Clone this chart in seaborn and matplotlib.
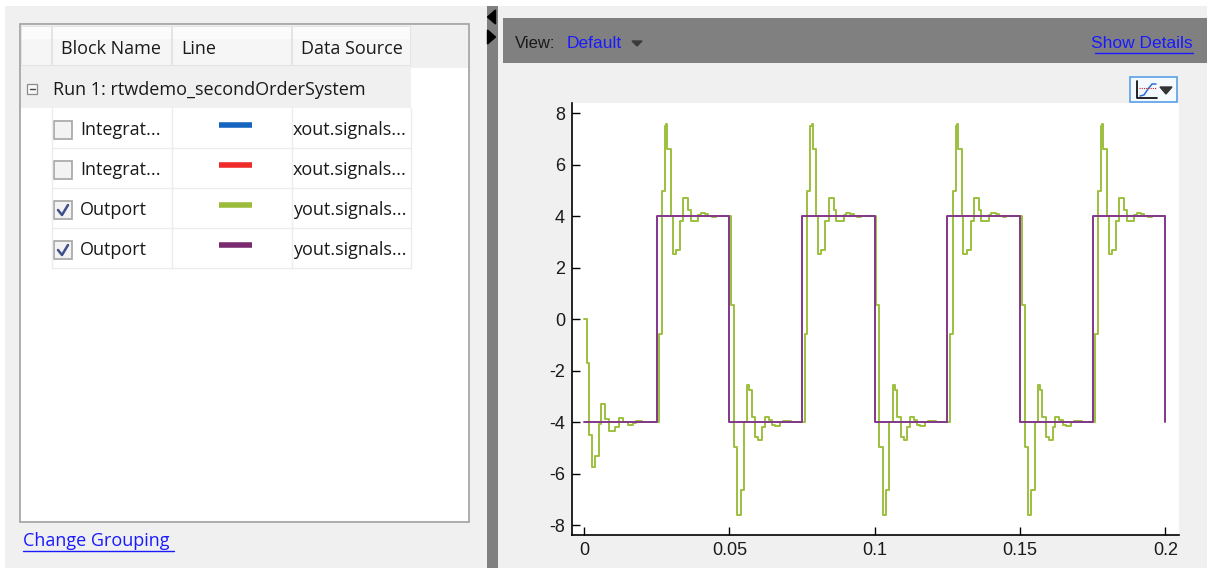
import matplotlib
matplotlib.use("Agg")
import matplotlib.pyplot as plt
from matplotlib.patches import Rectangle, Polygon
import seaborn as sns

# --- values ---
# square wave (purple Outport)
square_t = [0, 0.025, 0.05, 0.075, 0.1, 0.125, 0.15, 0.175, 0.2]
square_v = [-4, 4, -4, 4, -4, 4, -4, 4, -4]

# sampled response (green Outport), one list per half cycle
seg0_t = [0, 0.0010, 0.0017, 0.0027, 0.0039, 0.0050, 0.0057, 0.0071, 0.0085,
          0.0108, 0.0120, 0.0135, 0.0150, 0.0170, 0.0178, 0.0200]
seg0_v = [0, -1.7, -4.48, -5.75, -5.3, -4.06, -3.3, -3.87, -4.35,
          -4.17, -3.83, -4.0, -4.09, -4.03, -3.95, -4.0]
seg1_t = [0.0259, 0.0268, 0.0279, 0.0283, 0.0287, 0.0299, 0.0305, 0.0316, 0.0330,
          0.0342, 0.0359, 0.0367, 0.0393, 0.0401, 0.0416, 0.0428, 0.0440, 0.0453]
seg1_v = [-0.56, 4.97, 7.5, 7.6, 6.6, 4.0, 2.52, 2.7, 3.8,
          4.7, 4.25, 3.8, 4.04, 4.13, 4.08, 4.0, 3.96, 4.0]
seg2_t = [0.0505, 0.0516, 0.0528, 0.0539, 0.0550, 0.0562, 0.0569, 0.0577, 0.0589,
          0.0600, 0.0612, 0.0621, 0.0635, 0.0646, 0.0657, 0.0674, 0.0685, 0.0712]
seg2_v = [0.54, -4.97, -7.6, -6.63, -4.0, -2.54, -2.73, -3.78, -4.58,
          -4.7, -4.18, -3.78, -3.9, -4.1, -4.15, -4.0, -3.97, -4.0]
seg3_t = [0.0759, 0.0768, 0.0779, 0.0783, 0.0787, 0.0799, 0.0805, 0.0816, 0.0830,
          0.0842, 0.0859, 0.0867, 0.0893, 0.0901, 0.0916, 0.0928, 0.0940, 0.0953]
seg3_v = [-0.56, 4.97, 7.5, 7.6, 6.6, 4.0, 2.52, 2.7, 3.8,
          4.7, 4.25, 3.8, 4.04, 4.13, 4.08, 4.0, 3.96, 4.0]
seg4_t = [0.1005, 0.1016, 0.1028, 0.1039, 0.1050, 0.1062, 0.1069, 0.1077, 0.1089,
          0.1100, 0.1112, 0.1121, 0.1135, 0.1146, 0.1157, 0.1174, 0.1185, 0.1212]
seg4_v = [0.54, -4.97, -7.6, -6.63, -4.0, -2.54, -2.73, -3.78, -4.58,
          -4.7, -4.18, -3.78, -3.9, -4.1, -4.15, -4.0, -3.97, -4.0]
seg5_t = [0.1259, 0.1268, 0.1279, 0.1283, 0.1287, 0.1299, 0.1305, 0.1316, 0.1330,
          0.1342, 0.1359, 0.1367, 0.1393, 0.1401, 0.1416, 0.1428, 0.1440, 0.1453]
seg5_v = [-0.56, 4.97, 7.5, 7.6, 6.6, 4.0, 2.52, 2.7, 3.8,
          4.7, 4.25, 3.8, 4.04, 4.13, 4.08, 4.0, 3.96, 4.0]
seg6_t = [0.1505, 0.1516, 0.1528, 0.1539, 0.1550, 0.1562, 0.1569, 0.1577, 0.1589,
          0.1600, 0.1612, 0.1621, 0.1635, 0.1646, 0.1657, 0.1674, 0.1685, 0.1712]
seg6_v = [0.54, -4.97, -7.6, -6.63, -4.0, -2.54, -2.73, -3.78, -4.58,
          -4.7, -4.18, -3.78, -3.9, -4.1, -4.15, -4.0, -3.97, -4.0]
seg7_t = [0.1759, 0.1768, 0.1779, 0.1783, 0.1787, 0.1799, 0.1805, 0.1816, 0.1830,
          0.1842, 0.1859, 0.1867, 0.1893, 0.1901, 0.1916, 0.1928, 0.1940, 0.1953, 0.2]
seg7_v = [-0.56, 4.97, 7.5, 7.6, 6.6, 4.0, 2.52, 2.7, 3.8,
          4.7, 4.25, 3.8, 4.04, 4.13, 4.08, 4.0, 3.96, 4.0, 4.0]

x_ticks = [0, 0.05, 0.1, 0.15, 0.2]
x_labels = ["0", "0.05", "0.1", "0.15", "0.2"]
y_ticks = [-8, -6, -4, -2, 0, 2, 4, 6, 8]

headers = ["Block Name", "Line", "Data Source"]
run_label = "Run 1: rtwdemo_secondOrderSystem"
block_names = ["Integrat...", "Integrat...", "Outport", "Outport"]
line_colors = ["#1565c0", "#ee2a2a", "#9bbb3a", "#7a2b6f"]
data_sources = ["xout.signals...", "xout.signals...", "yout.signals...", "yout.signals..."]
checked = [False, False, True, True]

green = "#9cc03e"
purple = "#83378a"
link_blue = "#1a1aff"

sns.set_theme(style="ticks")
plt.rcParams["font.family"] = ["Open Sans", "DejaVu Sans"]
plt.rcParams["axes.unicode_minus"] = False

W, H = 1207, 568
fig = plt.figure(figsize=(W / 100, H / 100), dpi=100, facecolor="white")

# overlay in pixel coordinates for the GUI parts
ui = fig.add_axes([0, 0, 1, 1])
ui.set_xlim(0, W)
ui.set_ylim(H, 0)
ui.axis("off")

ui.add_patch(Rectangle((5, 6), W - 5, H - 6, facecolor="#f0f0f0", edgecolor="none"))

# left panel
ui.add_patch(Rectangle((20, 24), 449, 498, facecolor="white", edgecolor="#a0a0a0", lw=1.2))
ui.add_patch(Rectangle((21, 25), 447, 43, facecolor="#f0f0f0", edgecolor="none"))
cols = [21, 52, 172, 292, 411]
for i in range(4):
    ui.add_patch(Rectangle((cols[i], 26), cols[i + 1] - cols[i] - 1, 39,
                           facecolor="#f6f6f6", edgecolor="#e4e4e4", lw=0.8))
    ui.add_patch(Rectangle((cols[i] + 0.5, 26.5), cols[i + 1] - cols[i] - 2, 12,
                           facecolor="#fbfbfb", edgecolor="none"))
for i, h in enumerate(headers):
    ui.text(cols[i + 1] + 9, 49, h, fontsize=13, color="#1a1a1a", va="center")

ui.add_patch(Rectangle((21, 68), 390, 40, facecolor="#f0f0f0", edgecolor="none"))
ui.add_patch(Rectangle((27, 84), 10, 10, facecolor="#f8f8f8", edgecolor="#8c8c8c", lw=0.9))
ui.plot([29.5, 34.5], [89, 89], color="#444444", lw=1)
ui.text(53, 90, run_label, fontsize=13, color="#1a1a1a", va="center")

for r in range(4):
    y0 = 108 + 40 * r
    yc = y0 + 22
    ui.plot([52, 411], [y0 + 40, y0 + 40], color="#ececec", lw=1)
    ui.add_patch(Rectangle((54, yc - 9), 18, 18, facecolor="#f3f3f3", edgecolor="#a4a4a4", lw=1.2))
    if checked[r]:
        ui.plot([58, 62, 68], [yc, yc + 5, yc - 5], color="#3f4f8a", lw=1.8)
    ui.text(80, yc, block_names[r], fontsize=13, color="#1a1a1a", va="center")
    ui.plot([219, 252], [y0 + 17, y0 + 17], color=line_colors[r], lw=4, solid_capstyle="butt")
    ui.text(293, yc, data_sources[r], fontsize=13, color="#1a1a1a", va="center")
for xv in cols[1:]:
    ui.plot([xv, xv], [108, 268], color="#ececec", lw=1)

ui.text(23, 541, "Change Grouping", fontsize=13, color=link_blue, va="center")
ui.plot([23, 174], [551, 551], color=link_blue, lw=1)

# divider bar
ui.add_patch(Rectangle((487, 6), 11, H - 6, facecolor="#808080", edgecolor="none"))
ui.add_patch(Polygon([[495.5, 10], [495.5, 24], [487.5, 17]], closed=True, color="black"))
ui.add_patch(Polygon([[487.5, 30], [487.5, 44], [495.5, 37]], closed=True, color="black"))

# right header
ui.add_patch(Rectangle((503, 18), W - 503, 45, facecolor="#808080", edgecolor="none"))
ui.text(515, 43, "View:", fontsize=12, color="#1a1a1a", va="center", family="Liberation Sans")
ui.text(567, 43, "Default", fontsize=12.5, color=link_blue, va="center", family="Liberation Sans")
ui.add_patch(Polygon([[632, 41], [642, 41], [637, 46]], closed=True, color="#3a3a3a"))
ui.text(1193, 43, "Show Details", fontsize=12.5, color=link_blue, va="center", ha="right",
        family="Liberation Sans")
ui.plot([1095, 1193], [53, 53], color=link_blue, lw=1)

# plot-type button
ui.add_patch(Rectangle((1130, 77), 47, 25, facecolor="#f4f9fe", edgecolor="#5aa0e6", lw=1.2))
ui.plot([1137, 1137, 1157], [81, 98, 98], color="black", lw=1.2)
ui.plot([1140, 1144, 1148, 1152, 1156], [96, 95, 89, 84, 84], color="#2b6fd6", lw=1.1)
ui.plot([1139, 1156], [88, 88], color="#d02020", lw=0.8, ls=(0, (1, 1)))
ui.add_patch(Polygon([[1160, 87], [1172, 87], [1166, 94]], closed=True, color="#333333"))

# data axes
ax = fig.add_axes([572 / W, (H - 535) / H, (1178.5 - 572) / W, (535 - 103) / H])
ax.set_facecolor("white")

resp_t = seg0_t + seg1_t + seg2_t + seg3_t + seg4_t + seg5_t + seg6_t + seg7_t
resp_v = seg0_v + seg1_v + seg2_v + seg3_v + seg4_v + seg5_v + seg6_v + seg7_v
sns.lineplot(x=resp_t, y=resp_v, ax=ax, color=green, lw=1.4, drawstyle="steps-post",
             estimator=None, sort=False)
sns.lineplot(x=square_t, y=square_v, ax=ax, color=purple, lw=1.4, drawstyle="steps-post",
             estimator=None, sort=False)

ax.set_xlim(-0.00413, 0.2045)
ax.set_ylim(-8.38, 8.4)
ax.set_xticks(x_ticks)
ax.set_xticklabels(x_labels)
ax.set_yticks(y_ticks)
for s in ["top", "right"]:
    ax.spines[s].set_visible(False)
for s in ["left", "bottom"]:
    ax.spines[s].set_color("black")
    ax.spines[s].set_linewidth(1.2)
ax.tick_params(direction="in", length=6, width=1, color="black", labelsize=13,
               labelcolor="#1a1a1a", pad=5)
for lab in ax.get_xticklabels() + ax.get_yticklabels():
    lab.set_family("Liberation Sans")

fig.savefig("out.png", dpi=100, facecolor=fig.get_facecolor())
